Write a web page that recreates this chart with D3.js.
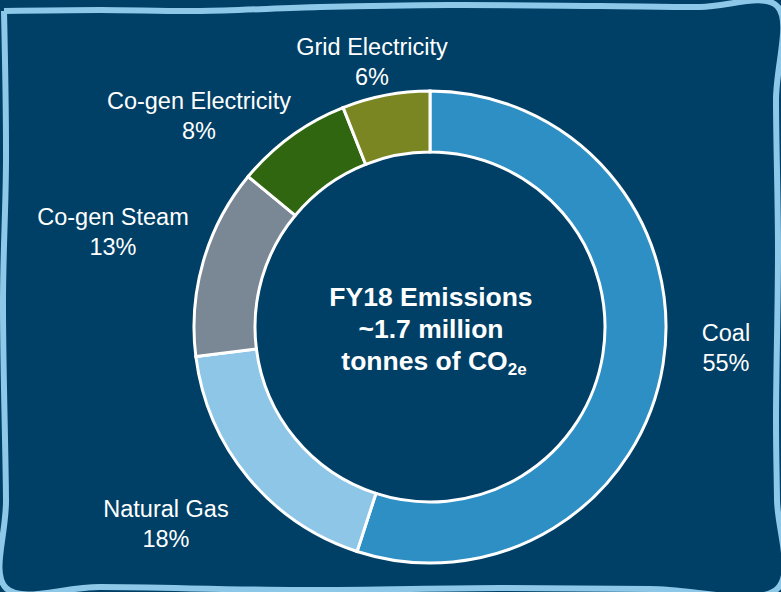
<!DOCTYPE html>
<html><head><meta charset="utf-8">
<script src="https://cdn.jsdelivr.net/npm/d3@7"></script>
<style>html,body{margin:0;padding:0;background:#003f66;}svg{display:block;}</style>
</head><body>
<svg id="c" width="781" height="592"></svg>
<script>
const categories = ["Coal", "Natural Gas", "Co-gen Steam", "Co-gen Electricity", "Grid Electricity"];
const values = [55, 18, 13, 8, 6];
const colors = ["#2e8fc4", "#8ec6e8", "#7a8794", "#306610", "#7a8622"];
const centerLines = ["FY18 Emissions", "~1.7 million", "tonnes of CO"];

// label layout (name baseline), one per category
const labelPos = [[726, 341], [166, 517], [113, 225], [199, 109], [372, 55]];

const svg = d3.select("#c");
const W = 781, H = 592, cx = 430, cy = 327;

svg.append("rect").attr("width", W).attr("height", H).attr("fill", "#003f66");

// wavy frame
const frame = [[4,11],[100,10],[200,11],[320,7],[450,5],[600,6],[700,7],[777,6],
  [776,100],[778,250],[776,420],[777,500],[778,588],
  [650,589],[500,588],[300,590],[100,587],[6,588],
  [6,500],[3,300],[6,160],[4,11]];
svg.append("path").attr("d", d3.line().curve(d3.curveCatmullRom)(frame))
  .attr("fill", "none").attr("stroke", "#8dc8e9").attr("stroke-width", 6);

const pie = d3.pie().sort(null).value(d => d)(values);
const arc = d3.arc().innerRadius(175).outerRadius(236);
const g = svg.append("g").attr("transform", `translate(${cx},${cy})`);
g.selectAll("path").data(pie).join("path")
  .attr("d", arc).attr("fill", (d, i) => colors[i])
  .attr("stroke", "#fff").attr("stroke-width", 3).attr("stroke-linejoin", "miter");

const font = "'Liberation Sans', Arial, sans-serif";
const lab = svg.append("g").attr("font-family", font).attr("font-size", 23.5).attr("fill", "#fff").attr("text-anchor", "middle");
categories.forEach((c, i) => {
  lab.append("text").attr("x", labelPos[i][0]).attr("y", labelPos[i][1]).text(c);
  lab.append("text").attr("x", labelPos[i][0]).attr("y", labelPos[i][1] + 30).text(values[i] + "%");
});

const ct = svg.append("g").attr("font-family", font).attr("font-size", 26.5).attr("font-weight", "bold")
  .attr("fill", "#fff").attr("text-anchor", "middle");
ct.append("text").attr("x", 431).attr("y", 306).text(centerLines[0]);
ct.append("text").attr("x", 431).attr("y", 338).text(centerLines[1]);
const t3 = ct.append("text").attr("x", 434).attr("y", 370);
t3.append("tspan").text(centerLines[2]);
t3.append("tspan").attr("font-size", 17).attr("dy", 5).text("2e");
</script>
</body></html>
